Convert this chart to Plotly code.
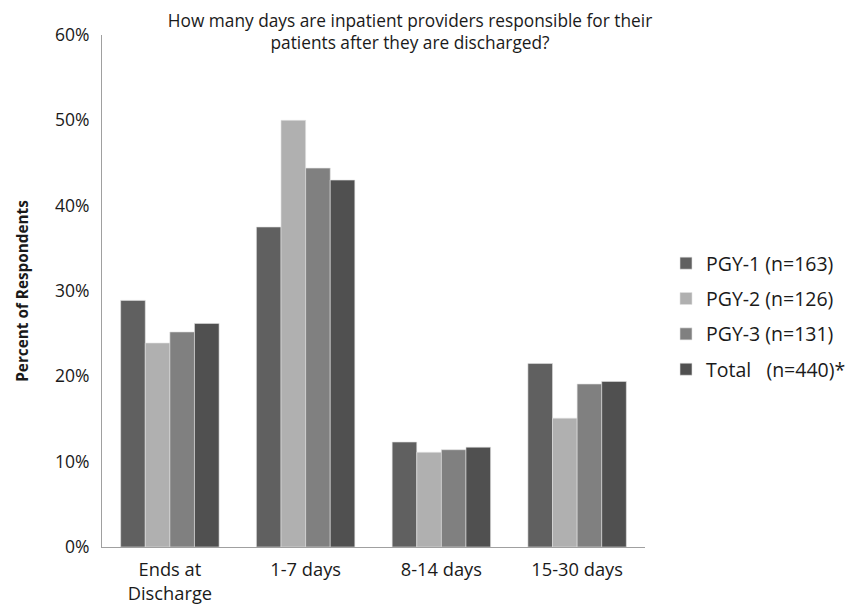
import plotly.graph_objects as go

categories = ["Ends at<br>Discharge", "1-7 days", "8-14 days", "15-30 days"]
series_names = ["PGY-1 (n=163)", "PGY-2 (n=126)", "PGY-3 (n=131)", "Total\u00a0\u00a0\u00a0(n=440)*"]
pgy1 = [28.9, 37.5, 12.3, 21.5]
pgy2 = [23.9, 50.0, 11.1, 15.1]
pgy3 = [25.2, 44.4, 11.4, 19.1]
total = [26.2, 43.0, 11.7, 19.4]
y_ticks = [0, 10, 20, 30, 40, 50, 60]
y_tick_labels = ["0%", "10%", "20%", "30%", "40%", "50%", "60%"]

series_values = [pgy1, pgy2, pgy3, total]
colors = ["#606060", "#b0b0b0", "#808080", "#505050"]

FONT = "Open Sans"

fig = go.Figure()
for i, (name, vals, col) in enumerate(zip(series_names, series_values, colors)):
    fig.add_trace(go.Bar(
        x=categories, y=vals, name=name,
        marker=dict(color=col, line=dict(color="#e0e0e0", width=0.6)),
        legendgroup=f"g{i}",
    ))

fig.update_layout(
    width=848, height=609,
    margin=dict(l=102, r=203, t=35, b=62),
    paper_bgcolor="white", plot_bgcolor="white",
    barmode="group", bargap=0.275, bargroupgap=0,
    font=dict(family=FONT, size=16, color="#1a1a1a"),
    title=dict(
        text="How many days are inpatient providers responsible for their<br>patients after they are discharged?",
        x=410/848, xanchor="center", y=1 - 27/609, yanchor="middle",
        font=dict(family=FONT, size=17.3, color="#1a1a1a"),
    ),
    showlegend=True,
    legend=dict(
        xref="container", yref="container",
        x=666/848, xanchor="left", y=1 - 244/609, yanchor="top",
        font=dict(family=FONT, size=19.5, color="#1a1a1a"),
        tracegroupgap=7, itemwidth=30, bgcolor="rgba(0,0,0,0)",
    ),
    xaxis=dict(
        showline=True, linecolor="#a0a0a0", linewidth=1.2,
        ticks="", tickfont=dict(family=FONT, size=18.3, color="#1a1a1a"),
        ticklabelstandoff=6,
        showgrid=False, zeroline=False, automargin=False,
    ),
    yaxis=dict(
        range=[0, 60], tickvals=y_ticks, ticktext=y_tick_labels,
        showline=True, linecolor="#a0a0a0", linewidth=1.2,
        ticks="", showgrid=False, zeroline=False, automargin=False,
        tickfont=dict(family=FONT, size=17.5, color="#1a1a1a"),
        ticklabelstandoff=8,
        title=dict(text="<b>Percent of Respondents</b>", standoff=22,
                   font=dict(family=FONT, size=15.3, color="#1a1a1a")),
    ),
)

fig.write_html("out.html", config={"displayModeBar": False},
               post_script="document.body.style.margin='0';")
